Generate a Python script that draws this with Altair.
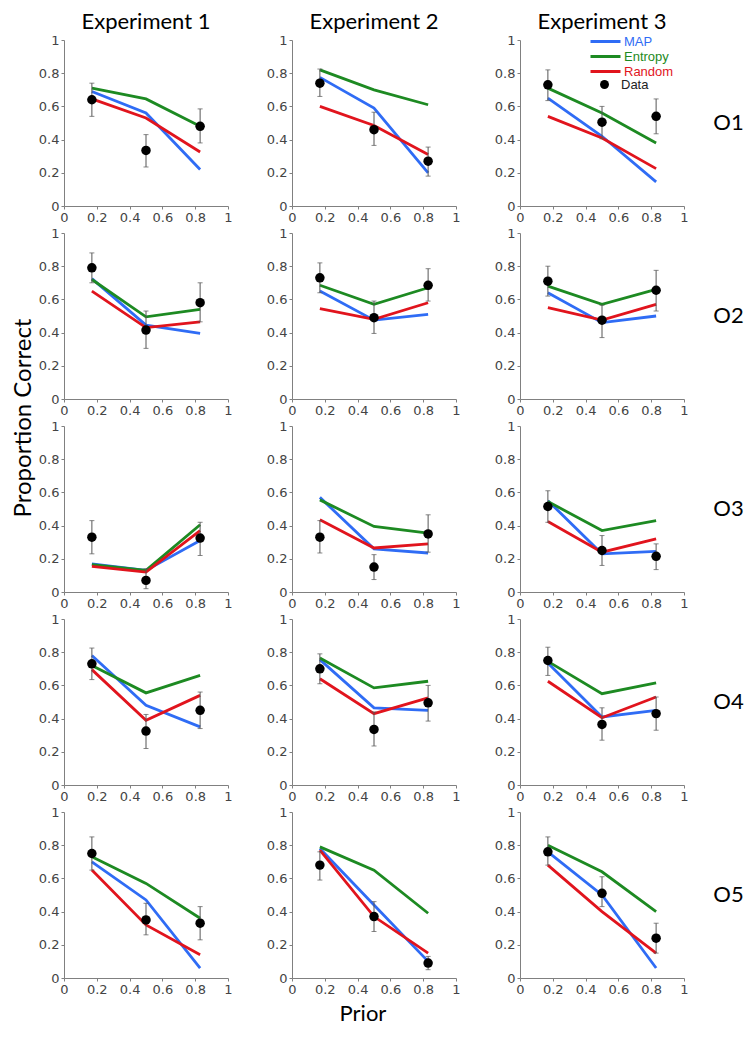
import altair as alt
import pandas as pd

PRIORS = [0.17, 0.5, 0.83]
EXPERIMENTS = ["Experiment 1", "Experiment 2", "Experiment 3"]
OBJECTIVES = ["O1", "O2", "O3", "O4", "O5"]
MODELS = ["MAP", "Entropy", "Random"]
MODEL_COLORS = ["#2f6cf5", "#1d8a22", "#e1141d"]
TICKS = [0, 0.2, 0.4, 0.6, 0.8, 1]

# [objective][experiment] -> values at the three priors
MAP_VALUES = [
    [[0.69, 0.56, 0.22], [0.775, 0.59, 0.20], [0.65, 0.42, 0.145]],
    [[0.725, 0.445, 0.395], [0.65, 0.475, 0.51], [0.64, 0.46, 0.50]],
    [[0.17, 0.13, 0.31], [0.57, 0.26, 0.235], [0.55, 0.23, 0.245]],
    [[0.78, 0.48, 0.35], [0.755, 0.465, 0.45], [0.735, 0.41, 0.45]],
    [[0.70, 0.47, 0.06], [0.78, 0.44, 0.10], [0.76, 0.50, 0.06]],
]
ENTROPY_VALUES = [
    [[0.71, 0.645, 0.48], [0.82, 0.70, 0.61], [0.71, 0.56, 0.38]],
    [[0.72, 0.495, 0.54], [0.685, 0.57, 0.67], [0.68, 0.57, 0.66]],
    [[0.165, 0.13, 0.405], [0.555, 0.395, 0.355], [0.545, 0.37, 0.43]],
    [[0.72, 0.555, 0.66], [0.765, 0.585, 0.625], [0.745, 0.55, 0.615]],
    [[0.73, 0.57, 0.36], [0.79, 0.65, 0.39], [0.80, 0.64, 0.40]],
]
RANDOM_VALUES = [
    [[0.645, 0.53, 0.325], [0.60, 0.485, 0.31], [0.54, 0.41, 0.225]],
    [[0.65, 0.43, 0.465], [0.545, 0.48, 0.58], [0.55, 0.475, 0.57]],
    [[0.155, 0.12, 0.37], [0.435, 0.265, 0.29], [0.425, 0.24, 0.32]],
    [[0.695, 0.39, 0.54], [0.64, 0.43, 0.525], [0.625, 0.405, 0.53]],
    [[0.65, 0.32, 0.14], [0.77, 0.37, 0.15], [0.68, 0.40, 0.15]],
]
DATA_MEAN = [
    [[0.64, 0.335, 0.48], [0.74, 0.46, 0.27], [0.73, 0.505, 0.54]],
    [[0.79, 0.415, 0.58], [0.73, 0.49, 0.685], [0.71, 0.475, 0.655]],
    [[0.33, 0.07, 0.325], [0.33, 0.15, 0.35], [0.515, 0.25, 0.215]],
    [[0.73, 0.325, 0.45], [0.70, 0.335, 0.495], [0.75, 0.365, 0.43]],
    [[0.75, 0.35, 0.33], [0.68, 0.37, 0.09], [0.76, 0.51, 0.24]],
]
DATA_LOW = [
    [[0.54, 0.235, 0.38], [0.66, 0.365, 0.18], [0.635, 0.405, 0.435]],
    [[0.70, 0.305, 0.465], [0.64, 0.395, 0.59], [0.62, 0.37, 0.53]],
    [[0.23, 0.02, 0.22], [0.235, 0.075, 0.24], [0.42, 0.16, 0.135]],
    [[0.635, 0.22, 0.34], [0.61, 0.235, 0.385], [0.66, 0.27, 0.33]],
    [[0.65, 0.26, 0.23], [0.59, 0.28, 0.05], [0.68, 0.43, 0.15]],
]
DATA_HIGH = [
    [[0.74, 0.43, 0.585], [0.825, 0.565, 0.355], [0.82, 0.60, 0.645]],
    [[0.88, 0.53, 0.70], [0.82, 0.59, 0.785], [0.80, 0.565, 0.775]],
    [[0.43, 0.14, 0.42], [0.43, 0.225, 0.465], [0.61, 0.34, 0.29]],
    [[0.825, 0.425, 0.56], [0.79, 0.44, 0.60], [0.83, 0.465, 0.53]],
    [[0.85, 0.45, 0.43], [0.76, 0.46, 0.13], [0.85, 0.61, 0.33]],
]

rows = []
model_tables = dict(zip(MODELS, [MAP_VALUES, ENTROPY_VALUES, RANDOM_VALUES]))
for i, obj in enumerate(OBJECTIVES):
    for j, exp in enumerate(EXPERIMENTS):
        for m in MODELS:
            for k, p in enumerate(PRIORS):
                rows.append(dict(kind="model", obj=obj, exp=exp, model=m, src=None,
                                 prior=p, value=model_tables[m][i][j][k], lo=None, hi=None))
        for k, p in enumerate(PRIORS):
            rows.append(dict(kind="data", obj=obj, exp=exp, model=None, src="Data",
                             prior=p, value=DATA_MEAN[i][j][k],
                             lo=DATA_LOW[i][j][k], hi=DATA_HIGH[i][j][k]))
df = pd.DataFrame(rows)

axis_common = dict(values=TICKS, format="~g", title=None, grid=False,
                   domainColor="#808080", tickColor="#808080", tickSize=3,
                   labelFont="DejaVu Sans", labelFontSize=13, labelColor="#444444",
                   labelPadding=2, labelFlush=False, labelOverlap=False)
sc = alt.Scale(domain=[0, 1], nice=False)


def X(field):
    return alt.X(field, scale=sc, axis=alt.Axis(**axis_common))


def Y(field):
    return alt.Y(field, scale=sc, axis=alt.Axis(**axis_common))


base = alt.Chart()

label_color_expr = ("datum.label == 'MAP' ? '" + MODEL_COLORS[0] + "' : datum.label == 'Entropy' ? '"
                    + MODEL_COLORS[1] + "' : '" + MODEL_COLORS[2] + "'")

lines = base.transform_filter("datum.kind == 'model'").mark_line(strokeWidth=2.8).encode(
    x=X("prior:Q"),
    y=Y("value:Q"),
    color=alt.Color("model:N", scale=alt.Scale(domain=MODELS, range=MODEL_COLORS),
                    legend=alt.Legend(title=None, orient="none", legendX=534, legendY=-6,
                                      symbolType="M-2.5,0H2.5", symbolSize=144,
                                      symbolStrokeWidth=3, labelFont="Liberation Sans",
                                      labelFontSize=13, labelOffset=11, rowPadding=0,
                                      padding=0, labelColor=alt.ExprRef(expr=label_color_expr))),
)

dsel = base.transform_filter("datum.kind == 'data'")
bars = dsel.mark_rule(color="#555555", strokeWidth=1).encode(
    x=X("prior:Q"), y=Y("lo:Q"), y2="hi:Q")
cap_lo = dsel.mark_tick(color="#555555", orient="horizontal", size=5, thickness=1).encode(
    x=X("prior:Q"), y=Y("lo:Q"))
cap_hi = dsel.mark_tick(color="#555555", orient="horizontal", size=5, thickness=1).encode(
    x=X("prior:Q"), y=Y("hi:Q"))
points = dsel.mark_point(filled=True, size=90, color="black", opacity=1).encode(
    x=X("prior:Q"),
    y=Y("value:Q"),
    shape=alt.Shape("src:N", scale=alt.Scale(domain=["Data"], range=["circle"]),
                    legend=alt.Legend(title=None, orient="none", legendX=534, legendY=38,
                                      symbolSize=80, symbolFillColor="black",
                                      symbolStrokeColor="black", labelFont="Liberation Sans",
                                      labelFontSize=13, labelColor="#222222", labelOffset=10,
                                      padding=0)),
)

panel = alt.layer(lines, bars, cap_lo, cap_hi, points, data=df).properties(width=164, height=166)

chart = panel.facet(
    row=alt.Row("obj:N", sort=OBJECTIVES,
                header=alt.Header(title=None, labelOrient="right", labelAngle=0, labelAlign="left",
                                  labelBaseline="middle", labelFont="Lato", labelFontSize=22,
                                  labelColor="black", labelPadding=-6)),
    column=alt.Column("exp:N", sort=EXPERIMENTS,
                      header=alt.Header(title="Prior", titleOrient="bottom", titleFont="Lato",
                                        titleFontSize=22, titleFontWeight="normal",
                                        titleColor="black", titlePadding=-2,
                                        labelOrient="top", labelFont="Lato", labelFontSize=22,
                                        labelColor="black", labelPadding=0)),
    spacing={"row": 3, "column": 33},
).resolve_axis(x="independent", y="independent").properties(
    title=alt.TitleParams(text="Proportion Correct", orient="left", anchor="middle",
                          font="Lato", fontSize=24, fontWeight="normal", color="black",
                          dx=100, offset=2),
    padding={"left": 4, "top": 3, "right": 0, "bottom": 0},
).configure_view(stroke=None)

chart.save("out.html", embed_options={"renderer": "svg", "actions": False})
